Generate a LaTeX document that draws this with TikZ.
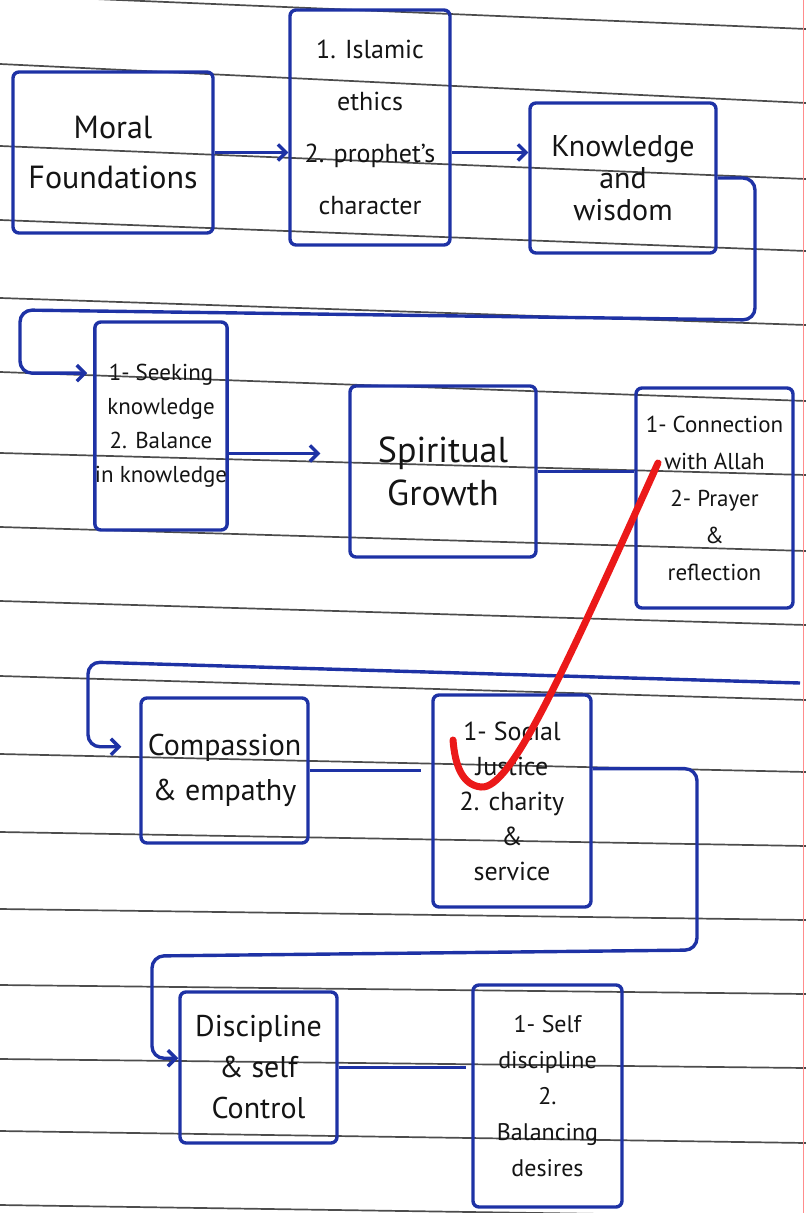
\documentclass[tikz,border=0pt]{standalone}
\usepackage{fontspec}
\setmainfont{PT Sans}
\usetikzlibrary{calc,arrows.meta}
\definecolor{pen}{RGB}{30,50,165}
\definecolor{ink}{RGB}{20,20,20}
\definecolor{redpen}{RGB}{235,25,25}
\tikzset{
	box/.style={draw=pen,line width=1.7pt,rounded corners=3pt,inner sep=0pt,align=center,text=ink},
	flow/.style={draw=pen,line width=1.7pt},
	rule/.style={draw=black!70,line width=0.85pt},
	>={Straight Barb[length=4pt,width=8pt]}
}

\begin{document}
\begin{tikzpicture}[x=0.5pt,y=-0.5pt]
\useasboundingbox (0,0) rectangle (806,1213);
\foreach \l/\r in {-5/29,64/103,146/179,220/251,298/325,372/401,453/475,527/551,601/625,676/700,754/772,832/846,909/920,985/994,1059/1068,1131/1143,1205/1217}
	\draw[rule] (0,\l) -- (806,\r);
\draw[draw=red!45,line width=0.5pt] (803,0) -- (803,1213);

\node[box,minimum width=100pt,minimum height=80.5pt,font=\fontsize{16}{25}\selectfont] (moral) at (113,152.5) {Moral\\Foundations};
\node[box,minimum width=80pt,minimum height=117.5pt,font=\fontsize{13}{26}\selectfont] (ethics) at (370,127.5) {1. Islamic\\ethics\\2. prophet's\\character};
\node[box,minimum width=93pt,minimum height=75pt,font=\fontsize{15}{16}\selectfont] (knowledge) at (623,178) {Knowledge\\and\\wisdom};
\node[box,minimum width=65pt,minimum height=104pt,font=\fontsize{11.5}{17}\selectfont] (seek) at (161,426) {1- Seeking\\knowledge\\2. Balance\\in knowledge};
\node[box,minimum width=93pt,minimum height=85.5pt,font=\fontsize{18}{21.5}\selectfont] (spiritual) at (443,471.5) {Spiritual\\Growth};
\node[box,minimum width=78.5pt,minimum height=110pt,font=\fontsize{11.5}{18.5}\selectfont] (allah) at (714.5,498) {1- Connection\\with Allah\\2- Prayer\\\&\\reflection};
\node[box,minimum width=83.5pt,minimum height=72.5pt,font=\fontsize{15}{22.5}\selectfont] (compassion) at (224.5,770.5) {Compassion\\\& empathy};
\node[box,minimum width=79pt,minimum height=106pt,font=\fontsize{13}{17.5}\selectfont] (justice) at (512,801) {1- Social\\Justice\\2. charity\\\&\\service};
\node[box,minimum width=78.5pt,minimum height=75.5pt,font=\fontsize{15}{20.5}\selectfont] (discipline) at (258.5,1067.5) {Discipline\\\& self\\Control};
\node[box,minimum width=74.5pt,minimum height=111pt,font=\fontsize{12}{18}\selectfont] (selfctl) at (547.5,1096) {1- Self\\discipline\\2.\\Balancing\\desires};

\coordinate (loopA) at (755,320);
\coordinate (loopB) at (20,310);
\coordinate (seekin) at ($(seek.north west)!0.25!(seek.south west)$);
\coordinate (seekout) at ($(seek.north east)!0.63!(seek.south east)$);
\coordinate (edgeR) at (800,683);
\coordinate (loopC) at (88,662);
\coordinate (compin) at ($(compassion.north west)!0.34!(compassion.south west)$);
\coordinate (justout) at ($(justice.north east)!0.35!(justice.south east)$);
\coordinate (loopD) at (697,950);
\coordinate (loopE) at (152,956);
\coordinate (discin) at ($(discipline.north west)!0.44!(discipline.south west)$);

\draw[flow,->] (moral.east) -- (moral.east -| ethics.west);
\draw[flow,->] (ethics.east |- moral.east) -- (knowledge.west |- moral.east);
\draw[flow,->,rounded corners=6pt,shorten >=3pt] (knowledge.east) -| (loopA) -- (loopB) |- (seekin);
\draw[flow,->,shorten >=14pt] (seekout) -- (seekout -| spiritual.west);
\draw[flow] (spiritual.east) -- (spiritual.east -| allah.west);
\draw[flow,->,rounded corners=6pt,shorten >=9pt] (edgeR) -- (loopC) |- (compin);
\draw[flow,shorten >=5pt] (compassion.east) -- (compassion.east -| justice.west);
\draw[flow,->,rounded corners=6pt] (justout) -| (loopD) -- (loopE) |- (discin);
\draw[flow,shorten >=2.5pt] (discipline.east) -- (discipline.east -| selfctl.west);

\draw[draw=redpen,line width=3.5pt,line cap=round] (658,463) .. controls (560,680) and (510,790) .. (481,787) .. controls (462,785) and (455,765) .. (453,740);
\end{tikzpicture}
\end{document}
